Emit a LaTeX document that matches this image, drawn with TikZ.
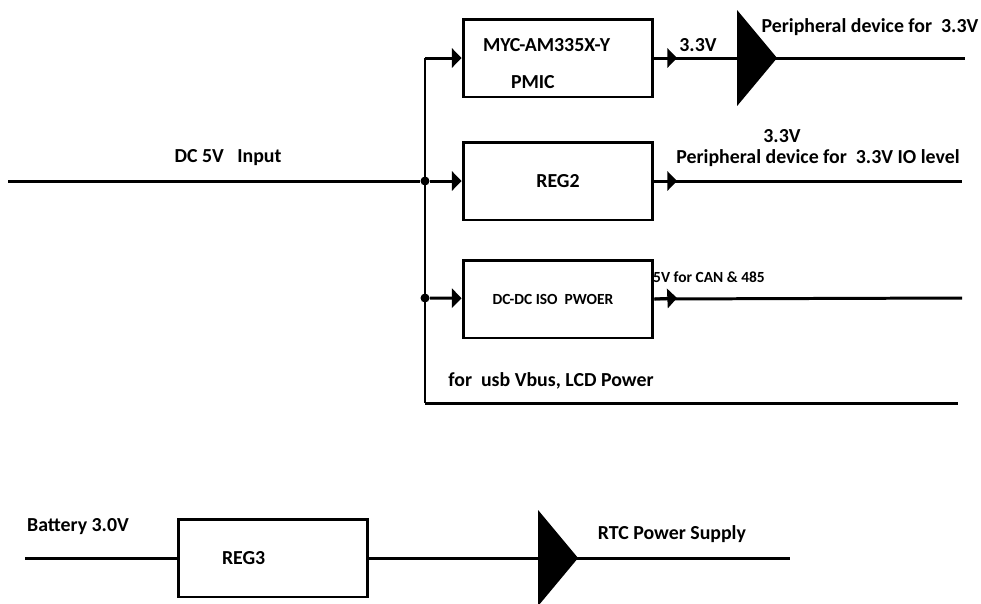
\documentclass[tikz,border=0pt]{standalone}
\usepackage{fontspec}
\setmainfont{Carlito}
\usetikzlibrary{arrows.meta,positioning,shapes.geometric}
\tikzset{
box/.style={draw,line width=1.7pt,minimum width=3.8cm,minimum height=1.56cm,font=\bfseries\fontsize{11.3}{13}\selectfont,inner sep=0pt},
lbl/.style={font=\bfseries\fontsize{11.3}{13}\selectfont,inner sep=0pt},
small/.style={font=\bfseries\fontsize{8.8}{10}\selectfont,inner sep=0pt},
bus/.style={line width=1.7pt},
feed/.style={line width=1.7pt,-{Triangle[length=5.5pt,width=11pt]}},
junc/.style={circle,fill,inner sep=0pt,minimum size=0.18cm},
amp/.style={isosceles triangle,isosceles triangle stretches,fill,inner sep=0pt,minimum height=0.8cm,minimum width=1.92cm,anchor=apex}
}
\begin{document}
\begin{tikzpicture}[x=0.02cm,y=-0.02cm]
\useasboundingbox (0,0) rectangle (981,603);
% DC 5V rail
\coordinate (in) at (8,181);
\coordinate (c1) at (425,58);
\coordinate (c4) at (425,403);
\node[junc] (j1) at (425,181) {};
\node[junc] (j2) at (425,298) {};
\node[lbl] (dcin) at (228,158) {DC 5V\ \ \ Input};
\draw[bus] (in) -- (j1);
\draw[bus] (c1) -- (c4);

% branches
\node[box,align=left,text width=3.0cm,inner xsep=0.4cm] (pmic) at (558,58) {\rule{0pt}{14pt}MYC-AM335X-Y\\[8pt]\hspace*{0.56cm}PMIC};
\node[box] (reg2) at (558,181) {REG2};
\node[box,font=\bfseries\fontsize{8.8}{10}\selectfont] (iso) at (558,299) {\hspace*{-0.2cm}DC-DC ISO\ \ PWOER};
\draw[feed] (c1) -- (pmic);
\draw[feed] (j1) -- (reg2);
\draw[feed] (j2) -- (iso);

% outputs
\coordinate (t1) at (677,58);
\coordinate (t2) at (677,181);
\coordinate (t3) at (677,298);
\coordinate (e1) at (965,58);
\coordinate (e2) at (962,181);
\coordinate (e3) at (962,298);
\coordinate (e4) at (958,403);
\node[amp] (amp1) at (778,58) {};
\draw[bus] (pmic.east) -- (e1);
\draw[feed] (pmic.east) -- (t1);
\draw[bus] (reg2.east) -- (e2);
\draw[feed] (reg2.east) -- (t2);
\draw[bus] (iso.east) -- (e3);
\draw[feed] (iso.east) -- (t3);
\draw[bus] (c4) -- (e4);

\node[lbl] (v1) at (698,45) {3.3V};
\node[lbl] (p1) at (870,27) {Peripheral device for\ \ 3.3V};
\node[lbl] (v2) at (782,136) {3.3V};
\node[lbl] (p2) at (818,158) {Peripheral device for\ \ 3.3V IO level};
\node[small] (can) at (709,277) {5V for CAN \& 485};
\node[lbl] (usb) at (551,381) {for\ \ usb Vbus, LCD Power};

% battery / RTC
\coordinate (bat) at (25,558);
\coordinate (e5) at (790,558);
\node[box,align=left,text width=2.04cm,inner xsep=0.88cm] (reg3) at (273,558) {REG3};
\node[amp] (amp2) at (579,558) {};
\draw[bus] (bat) -- (reg3);
\draw[bus] (reg3) -- (e5);
\node[lbl] (batl) at (78,527) {Battery 3.0V};
\node[lbl] (rtc) at (672,534) {RTC Power Supply};
\end{tikzpicture}
\end{document}
